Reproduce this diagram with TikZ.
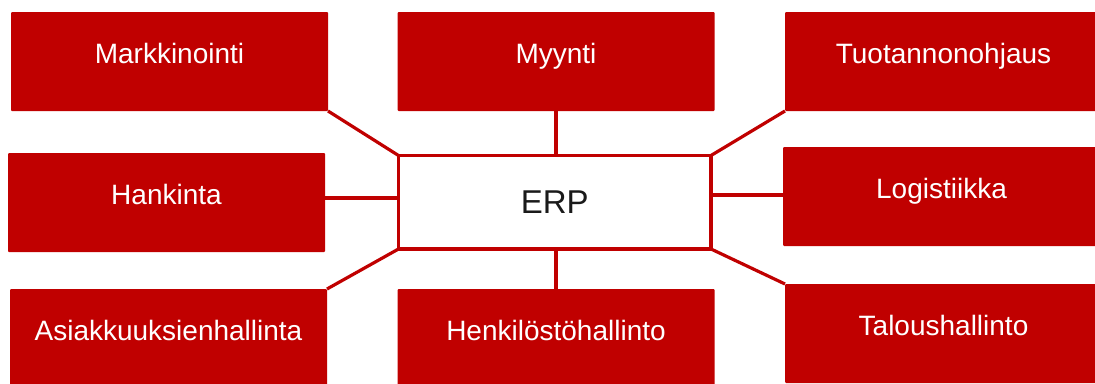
\documentclass[tikz,border=0pt]{standalone}
\usepackage{fontspec}
\setmainfont{Liberation Sans}
\definecolor{erpred}{HTML}{C00000}
\definecolor{erptext}{HTML}{1A1A1A}
\begin{document}
\begin{tikzpicture}[x=1pt,y=-1pt,
  modbox/.style={fill=erpred, rounded corners=1pt, anchor=north, inner sep=0pt, outer sep=0pt,
    minimum width=317pt, text width=317pt, align=center, text height=51pt, text depth=48pt,
    text=white, font=\fontsize{28}{30}\selectfont},
  erpbox/.style={draw=erpred, fill=white, line width=3.8pt, inner sep=0pt, outer sep=0pt,
    minimum width=312.5pt, minimum height=93.5pt, text=erptext, font=\fontsize{33}{36}\selectfont},
  link/.style={draw=erpred, line width=3.2pt}]
\useasboundingbox (0,0) rectangle (1095,383);
\clip (0,0) rectangle (1095,383);
\node[modbox] (mark) at (169.5,12) {Markkinointi};
\node[modbox] (myyn) at (556,12) {Myynti};
\node[modbox] (tuot) at (943.5,12) {Tuotannonohjaus};
\node[modbox] (hank) at (166.5,153) {Hankinta};
\node[modbox] (logi) at (941.5,147) {Logistiikka};
\node[modbox] (asia) at (168.5,289) {Asiakkuuksienhallinta};
\node[modbox] (henk) at (556,289) {Henkilöstöhallinto};
\node[modbox] (talo) at (943.5,284) {Taloushallinto};
\node[erpbox] (erp) at (554.75,202.25) {ERP};
\coordinate (hy) at (0,198);
\coordinate (ly) at (0,195);
\draw[link] (mark.south east) -- (erp.north west);
\draw[link] (myyn.south) -- (myyn.south |- erp.north);
\draw[link] (tuot.south west) -- (erp.north east);
\draw[link] (hank.east |- hy) -- (erp.west |- hy);
\draw[link] (logi.west |- ly) -- (erp.east |- ly);
\draw[link] (asia.north east) -- (erp.south west);
\draw[link] (henk.north) -- (henk.north |- erp.south);
\draw[link] (talo.north west) -- (erp.south east);
\end{tikzpicture}
\end{document}
